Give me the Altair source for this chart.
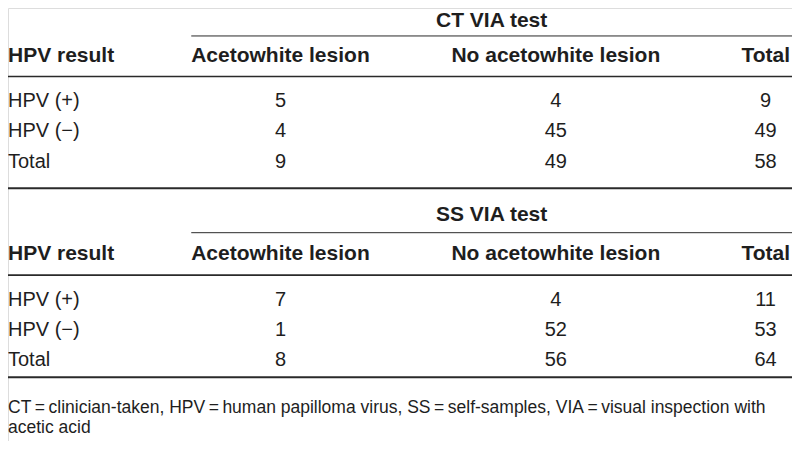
import altair as alt
import pandas as pd

# ---------------- data ----------------
col_headers = ["HPV result", "Acetowhite lesion", "No acetowhite lesion", "Total"]
row_labels = ["HPV (+)", "HPV (\u2212)", "Total"]
panel_titles = ["CT VIA test", "SS VIA test"]
ct_acetowhite = [5, 4, 9]
ct_no_acetowhite = [4, 45, 49]
ct_total = [9, 49, 58]
ss_acetowhite = [7, 1, 8]
ss_no_acetowhite = [4, 52, 56]
ss_total = [11, 53, 64]
footnote = [
    "CT\u2009=\u2009clinician-taken,  HPV\u2009=\u2009human papilloma virus,  SS\u2009=\u2009self-samples,  VIA\u2009=\u2009visual inspection with",
    "acetic acid",
]

# ---------------- layout (reference pixel units) ----------------
W, H = 800, 449
PW, PH = 784, 433
col_x = [0, 278, 559, 773]
total_header_right = 798
span_x0 = 187
panels = [
    dict(title=13, span=29, header=50, header_rule=71, rows=[96, 128, 160], bottom=187),
    dict(title=215, span=233, header=255, header_rule=277, rows=[303, 334, 365], bottom=383),
]
foot_y = [415, 436]
FONT = "'Liberation Sans', Arial, sans-serif"
TXT = "#1e1e1e"

panel_values = [
    [ct_acetowhite, ct_no_acetowhite, ct_total],
    [ss_acetowhite, ss_no_acetowhite, ss_total],
]

left_rows, center_rows, header_left, header_center, header_right, titles, rules, foot = [], [], [], [], [], [], [], []
for p, lay in enumerate(panels):
    titles.append(dict(x=(span_x0 + W) / 2, y=lay["title"], t=panel_titles[p]))
    header_left.append(dict(x=col_x[0], y=lay["header"], t=col_headers[0]))
    header_center.append(dict(x=col_x[1], y=lay["header"], t=col_headers[1]))
    header_center.append(dict(x=col_x[2], y=lay["header"], t=col_headers[2]))
    header_right.append(dict(x=total_header_right, y=lay["header"], t=col_headers[3]))
    for r, lab in enumerate(row_labels):
        left_rows.append(dict(x=col_x[0], y=lay["rows"][r], t=lab))
        for c, series in enumerate(panel_values[p]):
            center_rows.append(dict(x=col_x[c + 1], y=lay["rows"][r], t=str(series[r])))
    rules.append(dict(x0=span_x0, x1=W, y=lay["span"], w=1.0))
    rules.append(dict(x0=0, x1=W, y=lay["header_rule"], w=1.6))
    rules.append(dict(x0=0, x1=W, y=lay["bottom"], w=2.0))
for i, line in enumerate(footnote):
    foot.append(dict(x=0, y=foot_y[i], t=line))

xs = alt.Scale(domain=[0, W], range=[0, PW])
ys = alt.Scale(domain=[0, H], range=[0, PH])


def enc(df):
    return alt.Chart(pd.DataFrame(df)).encode(
        x=alt.X("x:Q", scale=xs, axis=None),
        y=alt.Y("y:Q", scale=ys, axis=None),
        text="t:N",
    )


BODY = 20
HEAD = 21
body_left = enc(left_rows).mark_text(align="left", baseline="middle", font=FONT, fontSize=BODY, color=TXT)
body_center = enc(center_rows).mark_text(align="center", baseline="middle", font=FONT, fontSize=BODY, color=TXT)
h_left = enc(header_left).mark_text(align="left", baseline="middle", font=FONT, fontSize=HEAD, fontWeight="bold", color=TXT)
h_center = enc(header_center).mark_text(align="center", baseline="middle", font=FONT, fontSize=HEAD, fontWeight="bold", color=TXT)
h_right = enc(header_right).mark_text(align="right", baseline="middle", font=FONT, fontSize=HEAD, fontWeight="bold", color=TXT)
t_layer = enc(titles).mark_text(align="center", baseline="middle", font=FONT, fontSize=HEAD, fontWeight="bold", color=TXT)
f_layer = enc(foot).mark_text(align="left", baseline="middle", font=FONT, fontSize=17.5, color=TXT)

rule_layer = alt.Chart(pd.DataFrame(rules)).mark_rule(color="#2a2a2a").encode(
    x=alt.X("x0:Q", scale=xs, axis=None),
    x2="x1:Q",
    y=alt.Y("y:Q", scale=ys, axis=None),
    strokeWidth=alt.StrokeWidth("w:Q", scale=None, legend=None),
)

chart = alt.layer(rule_layer, t_layer, h_left, h_center, h_right, body_left, body_center, f_layer).properties(
    width=PW, height=PH, autosize=alt.AutoSizeParams(type="none"), padding=0
).configure_view(stroke=None).configure(background="white")

chart.save("out.html", embed_options={"renderer": "svg", "actions": False})
